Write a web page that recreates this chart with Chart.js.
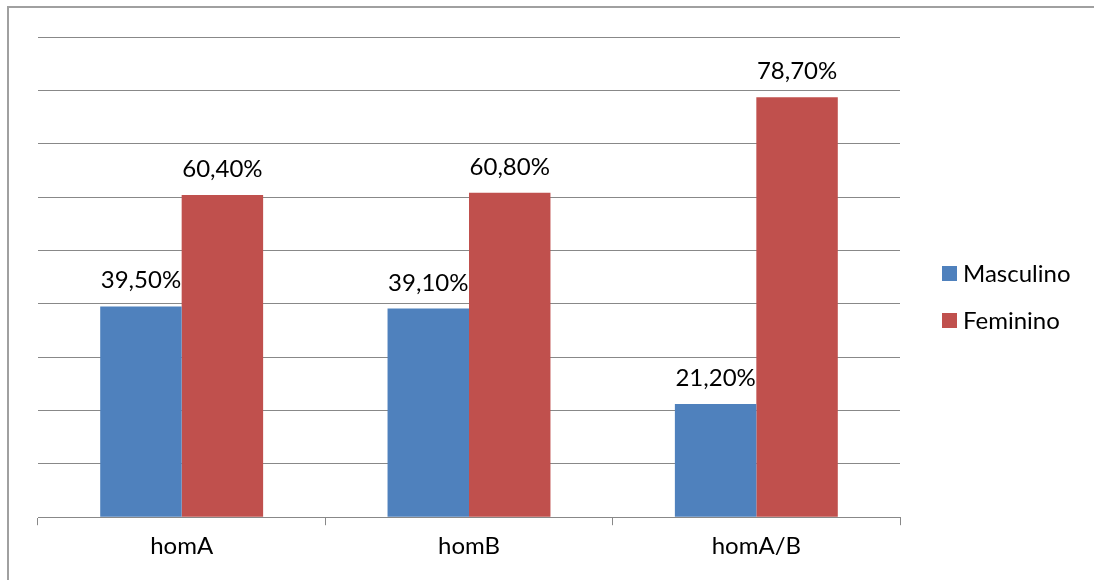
<!DOCTYPE html>
<html>
<head>
<meta charset="utf-8">
<script src="https://cdn.jsdelivr.net/npm/chart.js@4/dist/chart.umd.min.js"></script>
<style>
  html, body { margin: 0; padding: 0; background: #fff; }
  #wrap { width: 1094px; height: 580px; position: relative; }
  canvas { display: block; }
</style>
</head>
<body>
<div id="wrap"><canvas id="c" width="1094" height="580"></canvas></div>
<script>
// Categories and series (percent)
const categories = ['homA', 'homB', 'homA/B'];
const masculino = [39.5, 39.1, 21.2];
const feminino = [60.4, 60.8, 78.7];
const seriesNames = ['Masculino', 'Feminino'];
const seriesColors = ['#4F81BD', '#C0504D'];

const FONT = 'Lato, "Open Sans", sans-serif';
const fmt = v => v.toFixed(2).replace('.', ',') + '%';

// Outer frame (top and left edges), value labels and side legend
const decorations = {
  id: 'decorations',
  beforeDraw(chart) {
    const ctx = chart.ctx;
    ctx.save();
    ctx.strokeStyle = '#a0a0a0';
    ctx.lineWidth = 2;
    ctx.beginPath();
    ctx.moveTo(8, 580);
    ctx.lineTo(8, 7);
    ctx.lineTo(1094, 7);
    ctx.stroke();
    ctx.restore();
  },
  afterDatasetsDraw(chart) {
    const ctx = chart.ctx;
    ctx.save();
    ctx.font = '24px ' + FONT;
    ctx.fillStyle = '#000';
    ctx.textAlign = 'center';
    ctx.textBaseline = 'alphabetic';
    chart.data.datasets.forEach((ds, i) => {
      chart.getDatasetMeta(i).data.forEach((bar, j) => {
        ctx.fillText(fmt(ds.data[j]), bar.x, bar.y - 18);
      });
    });
    // legend
    const lx = 942, ly = [273, 320];
    ctx.font = '24px ' + FONT;
    ctx.textAlign = 'left';
    ctx.textBaseline = 'middle';
    seriesNames.forEach((name, i) => {
      ctx.fillStyle = seriesColors[i];
      ctx.fillRect(lx, ly[i] - 7, 15, 15);
      ctx.fillStyle = '#000';
      ctx.fillText(name, lx + 21, ly[i] + 1);
    });
    ctx.restore();
  }
};

new Chart(document.getElementById('c'), {
  type: 'bar',
  data: {
    labels: categories,
    datasets: [
      { label: seriesNames[0], data: masculino, backgroundColor: seriesColors[0] },
      { label: seriesNames[1], data: feminino, backgroundColor: seriesColors[1] }
    ]
  },
  options: {
    responsive: false,
    animation: false,
    devicePixelRatio: 1,
    layout: { padding: { left: 38, right: 194, top: 37, bottom: 12 } },
    datasets: { bar: { categoryPercentage: 0.567, barPercentage: 1.0 } },
    plugins: { legend: { display: false }, tooltip: { enabled: false } },
    scales: {
      x: {
        grid: { offset: true, drawOnChartArea: false, drawTicks: true, tickLength: 8, color: '#888', lineWidth: 1 },
        border: { display: true, color: '#888', width: 1 },
        ticks: { color: '#000', font: { family: FONT, size: 24 }, padding: 7 }
      },
      y: {
        min: 0, max: 90,
        afterFit(scale) { scale.width = 0; },
        ticks: { display: false, stepSize: 10 },
        grid: { color: '#888', lineWidth: 1, drawTicks: false },
        border: { display: false }
      }
    }
  },
  plugins: [decorations]
});
</script>
</body>
</html>
